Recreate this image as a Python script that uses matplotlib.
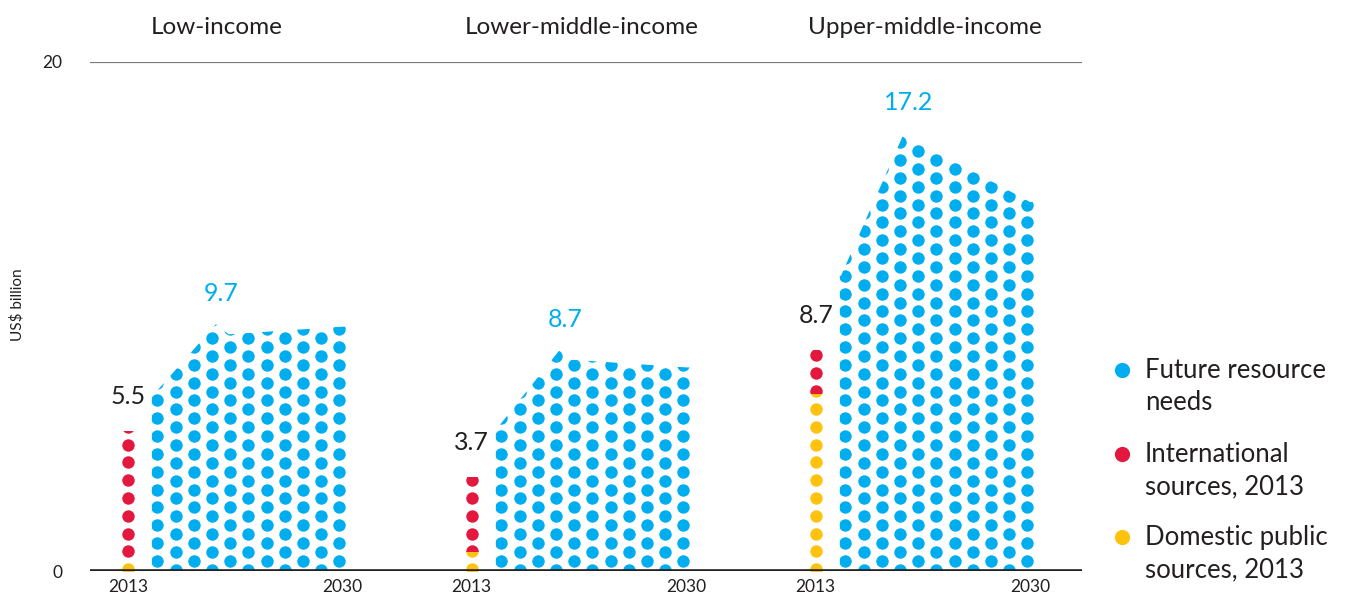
import matplotlib
matplotlib.use('Agg')
import matplotlib.pyplot as plt
from matplotlib.patches import Polygon, Rectangle
import numpy as np

plt.rcParams['font.family'] = ['Lato', 'DejaVu Sans']

panels = ['Low-income', 'Lower-middle-income', 'Upper-middle-income']

# 2013 financing by source, US$ billion
international_2013 = [5.0, 2.9, 1.7]
domestic_2013 = [0.5, 0.8, 7.0]
total_2013 = [5.5, 3.7, 8.7]

# future resource needs, US$ billion, at the corner years of each shape
need_years = [2015, 2020, 2021, 2030]
needs_low = [6.9, 9.7, 9.3, 9.6]
needs_lower_middle = [5.6, 8.7, 8.3, 8.0]
needs_upper_middle = [11.6, 17.2, 16.9, 14.5]
needs = [needs_low, needs_lower_middle, needs_upper_middle]
peak_needs = [9.7, 8.7, 17.2]

BLUE = '#00aeef'
RED = '#e4173e'
YELLOW = '#ffc20e'
INK = '#231f20'

W, H = 1352, 596
fig = plt.figure(figsize=(W / 100, H / 100), dpi=100)
ax = fig.add_axes([90 / W, 25 / H, 992 / W, 509 / H])
px_per_year = 12.6
ax.set_xlim(0, 992 / px_per_year)
ax.set_ylim(0, 20)

offsets = [3.0, 30.3, 57.6]   # x of 2013 in each panel
dx, dy = 1.445, 0.70          # dot pitch (years, US$ bn)
dot_s = 80


def xpos(p, year):
    return offsets[p] + (year - 2013)


for p in range(3):
    # 2013 column: domestic at the bottom, international on top
    x0 = xpos(p, 2013)
    ys = 0.07 + dy * np.arange(16)
    for lo, hi, col in [(0, domestic_2013[p], YELLOW),
                        (domestic_2013[p], domestic_2013[p] + international_2013[p], RED)]:
        sc = ax.scatter(np.full(len(ys), x0), ys, s=dot_s, color=col, lw=0, zorder=3)
        clip = Rectangle((x0 - 1, lo), 2, hi - lo, transform=ax.transData)
        sc.set_clip_path(clip)

    # future needs: staggered dot grid cut to the needs outline
    vals = needs[p]
    verts = [(xpos(p, 2014.9), 0), (xpos(p, 2014.9), vals[0])]
    verts += [(xpos(p, yr), v) for yr, v in zip(need_years, vals)]
    verts += [(xpos(p, 2030.5), vals[-1]), (xpos(p, 2030.5), 0)]
    shape = Polygon(verts, closed=True, transform=ax.transData)
    cols = 2015.35 + dx * np.arange(11)
    xs, ys = [], []
    for j, cx in enumerate(cols):
        y0 = 0.40 if j % 2 == 0 else 0.05
        cy = y0 + dy * np.arange(int(max(vals) / dy) + 2)
        xs += [xpos(p, cx)] * len(cy)
        ys += list(cy)
    sc = ax.scatter(xs, ys, s=dot_s, color=BLUE, lw=0, zorder=3)
    sc.set_clip_path(shape)

    ax.text(x0, total_2013[p] + 1.35, f'{total_2013[p]:.1f}', ha='center', va='center',
            fontsize=18, color=INK)
    ax.text(xpos(p, 2020.4), peak_needs[p] + 1.2, f'{peak_needs[p]:.1f}', ha='center',
            va='center', fontsize=18, color=BLUE)

ax.axhline(20, color='#7a7a7a', lw=1.6, zorder=1)
ax.axhline(0, color=INK, lw=2.6, zorder=5)
for s in ax.spines.values():
    s.set_visible(False)

ax.set_yticks([0, 20])
ax.set_yticklabels(['0', '20'])
ticks = [xpos(p, yr) for p in range(3) for yr in (2013, 2030)]
ax.set_xticks(ticks)
ax.set_xticklabels(['2013', '2030'] * 3)
ax.tick_params(axis='y', length=0, pad=20, labelsize=12.5, labelcolor=INK)
ax.tick_params(axis='x', length=0, pad=6, labelsize=12.5, labelcolor=INK)

fig.text(17 / W, 1 - 305 / H, 'US$ billion', rotation=90, ha='center', va='center',
         fontsize=11, color=INK)

title_x = [217, 582, 925]
for p in range(3):
    fig.text(title_x[p] / W, 1 - 27 / H, panels[p], ha='center', va='center',
             fontsize=17.5, color=INK)

# legend drawn on an overlay in pixel units
lax = fig.add_axes([0, 0, 1, 1])
lax.set_xlim(0, W)
lax.set_ylim(H, 0)
lax.axis('off')
legend = [(BLUE, 'Future resource\nneeds'),
          (RED, 'International\nsources, 2013'),
          (YELLOW, 'Domestic public\nsources, 2013')]
for i, (col, lab) in enumerate(legend):
    y = 370 + 83.5 * i
    lax.scatter([1122], [y], s=120, color=col, lw=0)
    lax.text(1145, y + 17, lab, ha='left', va='center', fontsize=18.5, color=INK,
             linespacing=1.35)

fig.savefig('out.png', dpi=100)
